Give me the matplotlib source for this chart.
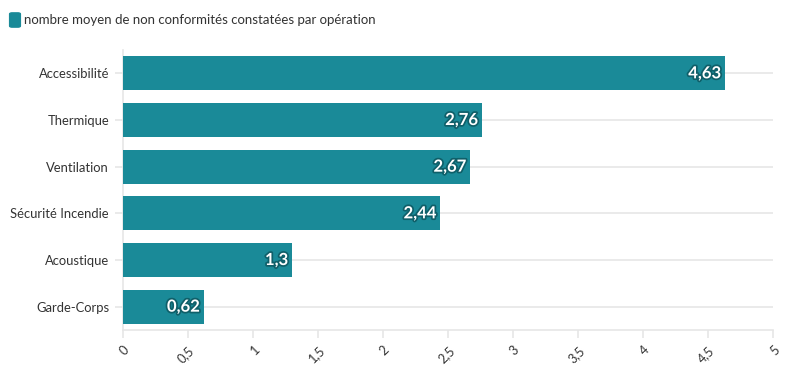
import matplotlib.pyplot as plt
import matplotlib.patheffects as pe
from matplotlib.patches import FancyBboxPatch

categories = ["Accessibilité", "Thermique", "Ventilation", "Sécurité Incendie", "Acoustique", "Garde-Corps"]
values = [4.63, 2.76, 2.67, 2.44, 1.3, 0.62]
xticks = [0, 0.5, 1, 1.5, 2, 2.5, 3, 3.5, 4, 4.5, 5]
series_name = "nombre moyen de non conformités constatées par opération"

bar_color = "#1a8a98"
grid_color = "#e6e6e6"
plt.rcParams['font.family'] = ['Lato', 'DejaVu Sans']

fig = plt.figure(figsize=(7.96, 3.75), dpi=100)
ax = fig.add_axes([123 / 796, 1 - 330 / 375, 650 / 796, 280 / 375])

y = list(range(len(categories)))
ax.barh(y, values, height=0.73, color=bar_color, zorder=3)
for yi, v in zip(y, values):
    lbl = f"{v:g}".replace(".", ",")
    ax.text(v - 0.03, yi, lbl, ha="right", va="center", color="white",
            fontsize=12, fontweight="bold", zorder=4,
            path_effects=[pe.withStroke(linewidth=2.5, foreground="#0f5f69")])

ax.set_xlim(0, 5)
ax.set_ylim(len(categories) - 0.5, -0.5)
ax.set_yticks(y)
ax.set_yticklabels(categories, fontsize=9.4, color="#333333")
ax.set_xticks(xticks)
ax.set_xticklabels([f"{t:g}".replace(".", ",") for t in xticks], rotation=45,
                   ha="right", va="top", rotation_mode="anchor", fontsize=9.2, color="#333333")
for t in y:
    ax.axhline(t, color=grid_color, lw=1.2, zorder=1)

for s in ["top", "right"]:
    ax.spines[s].set_visible(False)
for s in ["left", "bottom"]:
    ax.spines[s].set_color(grid_color)
    ax.spines[s].set_linewidth(1.2)
ax.tick_params(axis="x", length=6, color=grid_color, width=1.2, pad=4)
ax.tick_params(axis="y", length=6, color=grid_color, width=1.2, pad=4)

# legend
fig.patches.append(FancyBboxPatch((12 / 796, 1 - 26 / 375), 6 / 796, 12 / 375,
                                  boxstyle="round,pad=0.003", transform=fig.transFigure,
                                  facecolor=bar_color, edgecolor=bar_color))
fig.text(24 / 796, 1 - 20 / 375, series_name, ha="left", va="center", fontsize=9.5, color="#333333")

fig.savefig("out.png", dpi=100)
